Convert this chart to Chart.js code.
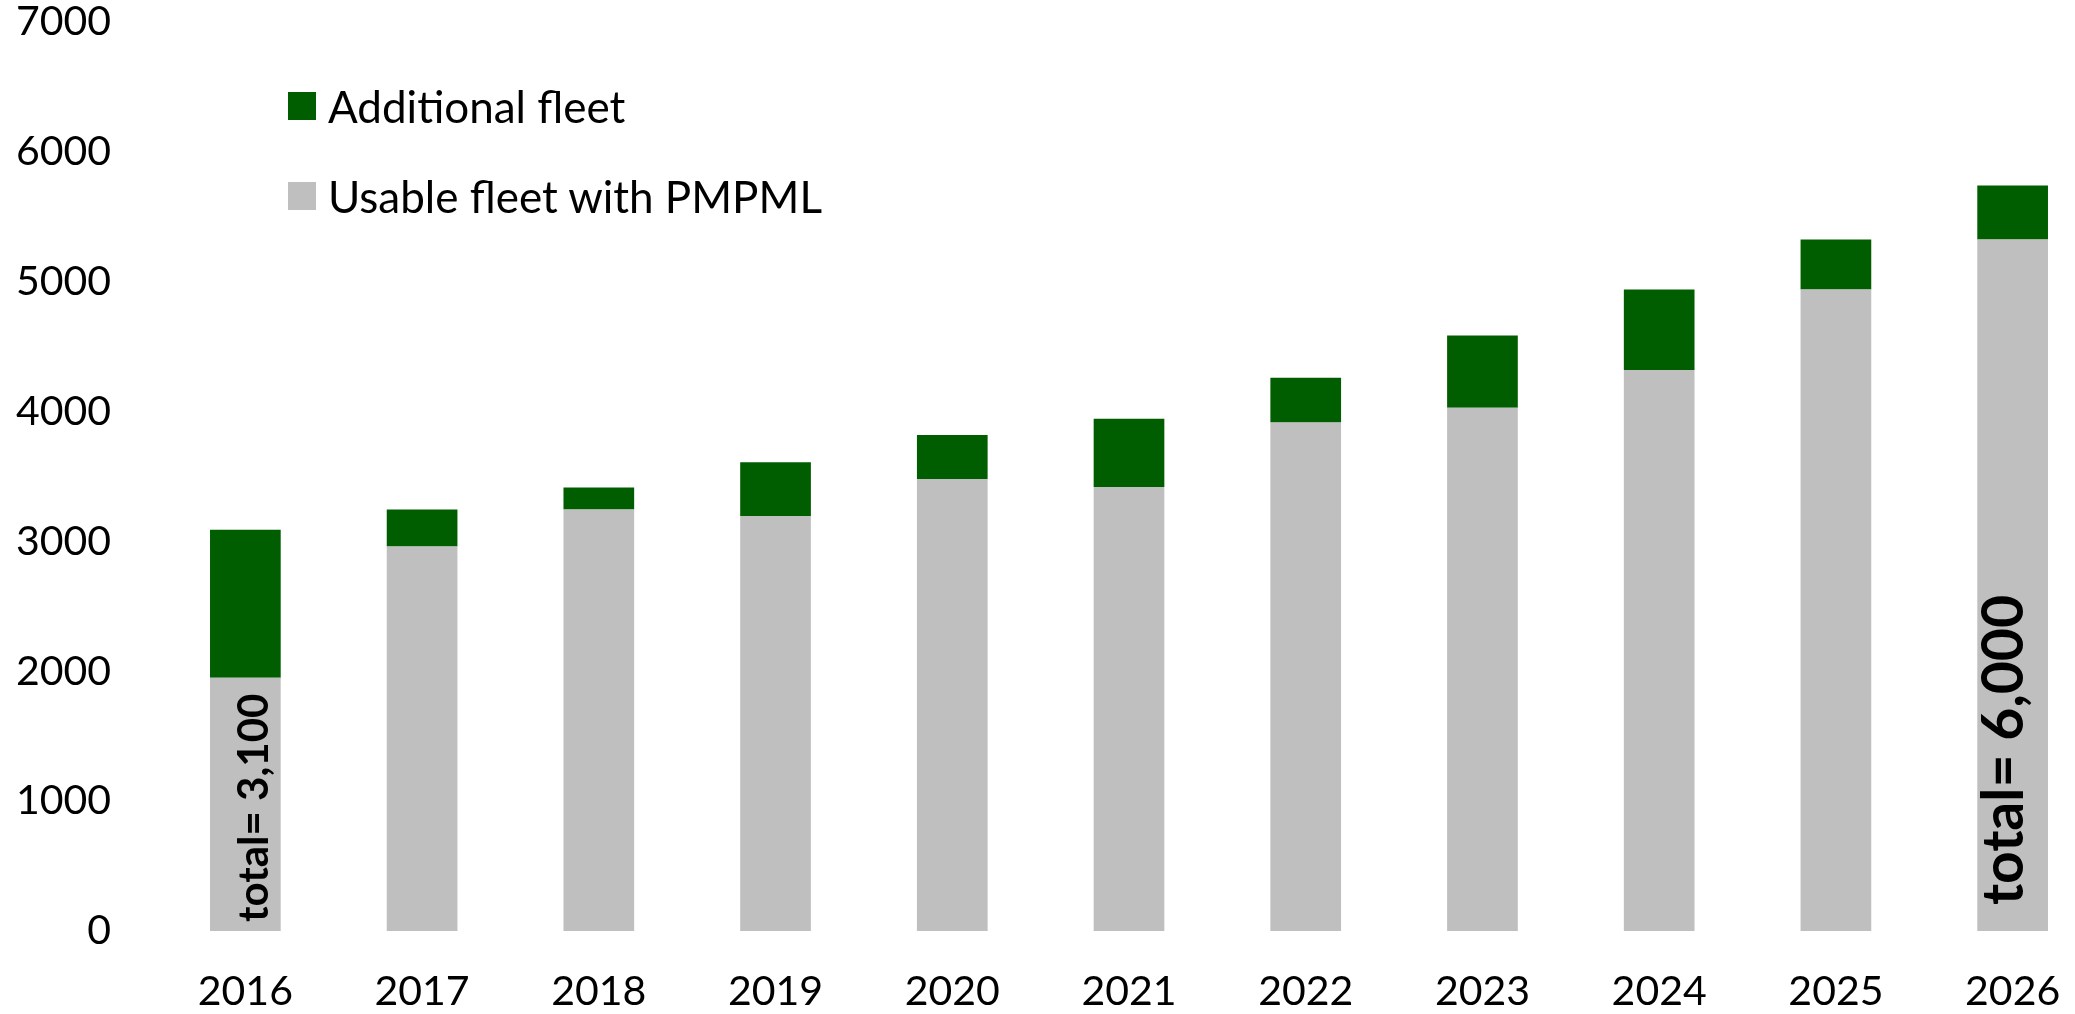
<!DOCTYPE html>
<html>
<head>
<meta charset="utf-8">
<script src="https://cdn.jsdelivr.net/npm/chart.js@4.4.1/dist/chart.umd.min.js"></script>
<style>
  body { margin: 0; background: #fff; overflow: hidden; }
  #wrap { position: absolute; left: 0; top: 0; width: 2101px; height: 1014px; }
  #legend { position: absolute; left: 288px; top: 83px; font-family: Lato, sans-serif; font-size: 44px; color: #000; }
  #legend .item { display: flex; align-items: center; height: 46px; margin-bottom: 44px; }
  #legend .box { width: 28px; height: 28px; margin-right: 12px; }
</style>
</head>
<body>
<div id="wrap"><canvas id="fleetChart"></canvas></div>
<div id="legend"></div>
<script>
// data
const years = ['2016', '2017', '2018', '2019', '2020', '2021', '2022', '2023', '2024', '2025', '2026'];
const usableFleet = [1950, 2960, 3245, 3195, 3480, 3420, 3915, 4030, 4320, 4940, 5325];
const additionalFleet = [1140, 285, 170, 415, 340, 525, 345, 555, 620, 385, 415];
const noteYears = ['2016', '2026'];
const noteTexts = ['total= 3,100', 'total= 6,000'];
const yMax = 7000;
const yStep = 1000;

const green = '#005E00';
const grey = '#BFBFBF';
const font = 'Lato, sans-serif';

// rotated "total=" notes inside the first and last bar
const barNotes = {
  id: 'barNotes',
  afterDatasetsDraw(chart) {
    const { ctx, scales: { x, y } } = chart;
    const styles = [
      { size: 42, dx: 23, up: 9 },
      { size: 57, dx: 10, up: 26 }
    ];
    noteYears.forEach((yr, i) => {
      const s = styles[i];
      const cx = x.getPixelForValue(years.indexOf(yr));
      const base = y.getPixelForValue(0);
      ctx.save();
      ctx.translate(cx + s.dx, base - s.up);
      ctx.rotate(-Math.PI / 2);
      ctx.font = 'bold ' + s.size + 'px ' + font;
      ctx.fillStyle = '#000';
      ctx.textAlign = 'left';
      ctx.textBaseline = 'alphabetic';
      ctx.fillText(noteTexts[i], 0, 0);
      ctx.restore();
    });
  }
};

const data = {
  labels: years,
  datasets: [
    {
      label: 'Usable fleet with PMPML',
      data: usableFleet,
      backgroundColor: grey,
      borderWidth: 0
    },
    {
      label: 'Additional fleet',
      data: additionalFleet,
      backgroundColor: green,
      borderWidth: 0
    }
  ]
};

const config = {
  type: 'bar',
  data,
  options: {
    responsive: true,
    maintainAspectRatio: false,
    animation: false,
    layout: { padding: { top: 22, right: 0, left: 0, bottom: 0 } },
    datasets: {
      bar: { categoryPercentage: 1, barPercentage: 0.4 }
    },
    plugins: {
      legend: { display: false },
      tooltip: { enabled: false }
    },
    scales: {
      x: {
        stacked: true,
        grid: { display: false, drawTicks: false },
        border: { display: false },
        ticks: {
          color: '#000',
          padding: 40,
          maxRotation: 0,
          font: { family: font, size: 41, lineHeight: 1 }
        },
        afterFit(scale) { scale.height = 83; }
      },
      y: {
        stacked: true,
        min: 0,
        max: yMax,
        grid: { display: false, drawTicks: false },
        border: { display: false },
        ticks: {
          stepSize: yStep,
          color: '#000',
          padding: 46,
          font: { family: font, size: 41, lineHeight: 1 },
          callback: (v) => String(v)
        },
        afterFit(scale) {
          scale.width = 157;
          scale.paddingTop = 0;
          scale.paddingBottom = 0;
        }
      }
    }
  },
  plugins: [barNotes]
};

const myChart = new Chart(document.getElementById('fleetChart'), config);

// html legend, top series first
const legendEl = document.getElementById('legend');
myChart.data.datasets.slice().reverse().forEach((ds) => {
  const item = document.createElement('div');
  item.className = 'item';
  const box = document.createElement('span');
  box.className = 'box';
  box.style.background = ds.backgroundColor;
  const txt = document.createElement('span');
  txt.textContent = ds.label;
  item.appendChild(box);
  item.appendChild(txt);
  legendEl.appendChild(item);
});
</script>
</body>
</html>
